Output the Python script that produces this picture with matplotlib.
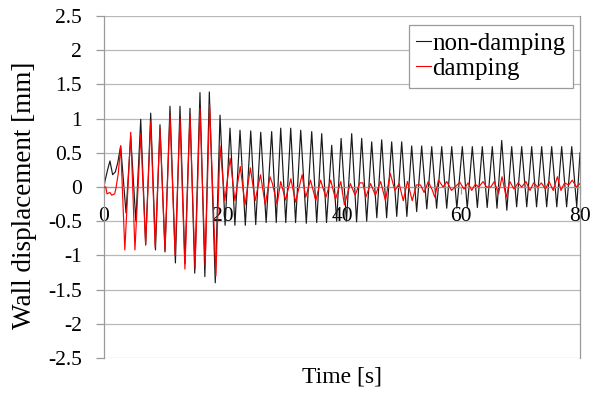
import matplotlib
matplotlib.use("Agg")
import matplotlib.pyplot as plt

# ---- data (vertices) ----
t_nondamp = [0.0, 0.2, 0.6, 1.0, 1.45, 1.9, 2.3, 2.8, 3.7, 4.49, 5.35, 6.17, 7.0, 7.85, 8.65,
             9.41, 10.25, 11.09, 12.0, 12.77, 13.6, 14.45, 15.25, 16.13, 16.95, 17.70, 18.7,
             19.5, 20.35, 21.18, 22.0, 22.86, 23.75, 24.66, 25.5, 26.34, 27.25, 28.18, 28.95,
             29.70, 30.55, 31.38, 32.2, 33.06, 34.0, 34.91, 35.75, 36.59, 37.4, 38.27, 39.1,
             39.85, 40.75, 41.63, 42.45, 43.31, 44.15, 44.99, 45.85, 46.67, 47.5, 48.35, 49.2,
             50.03, 50.9, 51.71, 52.55, 53.39, 54.25, 55.08, 55.9, 56.76, 57.6, 58.44, 59.3,
             60.22, 61.05, 61.90, 62.75, 63.58, 64.4, 65.26, 66.05, 66.84, 67.7, 68.52, 69.35,
             70.20, 71.05, 71.88, 72.7, 73.56, 74.4, 75.24, 76.1, 76.92, 77.75, 78.61, 79.45, 80.0]
v_nondamp = [0.0, 0.1, 0.25, 0.38, 0.18, 0.22, 0.35, 0.6, -0.38, 0.74, -0.5, 0.99, -0.85, 1.08, -0.92,
             0.91, -0.95, 1.18, -1.11, 1.18, -1.12, 1.15, -1.26, 1.38, -1.31, 1.39, -1.4,
             1.05, -0.56, 0.86, -0.56, 0.83, -0.56, 0.82, -0.55, 0.8, -0.52, 0.81, -0.52,
             0.86, -0.52, 0.86, -0.52, 0.83, -0.53, 0.81, -0.52, 0.78, -0.52, 0.61, -0.5,
             0.71, -0.5, 0.78, -0.51, 0.71, -0.5, 0.66, -0.45, 0.69, -0.45, 0.66, -0.43,
             0.66, -0.43, 0.6, -0.36, 0.6, -0.32, 0.59, -0.31, 0.59, -0.31, 0.59, -0.31,
             0.59, -0.31, 0.59, -0.3, 0.59, -0.3, 0.59, -0.31, 0.68, -0.34, 0.59, -0.29,
             0.59, -0.29, 0.59, -0.29, 0.59, -0.29, 0.59, -0.29, 0.59, -0.29, 0.59, -0.29, 0.5]

t_damp = [0.0, 0.3, 0.5, 1.0, 1.3, 1.8, 2.0, 2.4, 2.8, 3.5, 4.49, 5.2, 6.17, 7.0, 7.85, 8.6,
          9.41, 10.25, 11.09, 11.95, 12.77, 13.6, 14.45, 15.3, 16.13, 17.0, 17.75, 18.8,
          19.5, 20.3, 21.2, 22.0, 22.9, 23.7, 24.6, 25.4, 26.3, 27.1, 27.9, 28.3, 29.1,
          29.7, 30.5, 31.4, 32.2, 33.3, 33.9, 34.7, 35.6, 36.4, 37.3, 38.1, 38.9, 39.8,
          40.4, 41.4, 42.2, 43.0, 43.5, 44.0, 44.8, 45.6, 46.5, 47.3, 48.1, 48.9, 49.6,
          50.3, 51.0, 51.8, 52.5, 53.2, 53.8, 54.5, 55.2, 55.6, 56.2, 57.0, 57.6, 58.4,
          59.0, 59.8, 60.5, 61.2, 61.8, 62.4, 63.0, 63.7, 64.3, 65.0, 65.6, 66.3, 66.9,
          67.6, 68.2, 68.9, 69.6, 70.2, 70.9, 71.6, 72.2, 72.9, 73.5, 74.2, 74.8, 75.5,
          76.2, 76.8, 77.4, 78.1, 78.7, 79.4, 80.0]
v_damp = [0.0, 0.0, -0.1, -0.08, -0.12, -0.1, -0.02, 0.2, 0.6, -0.92, 0.8, -0.92, 0.78, -0.84, 0.96, -0.88,
          0.85, -0.92, 1.05, -1.0, 1.0, -1.2, 1.05, -1.19, 1.15, -1.15, 1.2, -1.3,
          0.6, -0.2, 0.42, -0.2, 0.3, -0.26, 0.28, -0.2, 0.18, -0.26, 0.15, 0.05, -0.25,
          0.08, -0.19, 0.12, -0.22, 0.18, -0.15, 0.1, -0.2, 0.1, -0.15, 0.1, -0.18, 0.08,
          -0.26, 0.05, -0.12, 0.06, 0.06, -0.15, 0.05, -0.12, 0.08, -0.2, 0.2, -0.05, 0.05,
          -0.2, 0.08, -0.2, 0.03, 0.03, -0.08, 0.08, -0.05, -0.15, 0.1, 0.0, 0.08, -0.05,
          0.0, 0.07, -0.03, 0.06, -0.05, 0.04, 0.0, 0.08, 0.0, 0.0, 0.08, -0.1, 0.15,
          -0.15, 0.08, -0.03, 0.06, 0.0, 0.08, -0.05, 0.06, 0.0, 0.06, -0.03, 0.08, -0.05,
          0.15, -0.05, 0.06, 0.03, 0.1, 0.0, 0.05]

x_ticks = [0, 20, 40, 60, 80]
y_ticks = [-2.5, -2, -1.5, -1, -0.5, 0, 0.5, 1, 1.5, 2, 2.5]
y_ticklabels = ["-2.5", "-2", "-1.5", "-1", "-0.5", "0", "0.5", "1", "1.5", "2", "2.5"]
labels = ["non-damping", "damping"]

plt.rcParams['font.family'] = ['Liberation Serif', 'DejaVu Serif']

fig = plt.figure(figsize=(5.98, 3.94), dpi=100)
ax = fig.add_axes([104/598, 1-358/394, (580-104)/598, (358-16)/394])

grid_c = '#b8b8b8'
axis_c = '#9a9a9a'
for y in y_ticks:
    ax.axhline(y, color=grid_c, lw=0.9, zorder=0)

ax.plot(t_nondamp, v_nondamp, color='#1a1a1a', lw=0.85, label=labels[0], zorder=2)
ax.plot(t_damp, v_damp, color='#ff0000', lw=0.85, label=labels[1], zorder=3)

ax.set_xlim(0, 80)
ax.set_ylim(-2.5, 2.5)
ax.set_yticks(y_ticks)
ax.set_yticklabels(y_ticklabels)
ax.set_xticks(x_ticks)
ax.set_xticklabels([str(v) for v in x_ticks])

ax.spines['bottom'].set_position(('data', 0))
for s in ['left', 'bottom', 'right', 'top']:
    ax.spines[s].set_color(axis_c)
    ax.spines[s].set_linewidth(0.9)
ax.spines['top'].set_visible(False)

ax.tick_params(axis='y', direction='out', length=5.5, width=0.9, color=axis_c,
               labelsize=15.5, pad=10.5)
ax.tick_params(axis='x', direction='out', length=5, width=0.9, color=axis_c,
               labelsize=15.5, pad=9.5)

fig.text(25/598, 1-195/394, 'Wall displacement [mm]', ha='center', va='center',
         rotation=90, fontsize=19.5)
fig.text((298+385)/2/598, 1-377/394, 'Time [s]', ha='center', va='center', fontsize=17)

leg = ax.legend(loc='upper right', bbox_to_anchor=(573/598, 1-25/394),
                bbox_transform=fig.transFigure, fontsize=18, frameon=True,
                fancybox=False, edgecolor='#9a9a9a', framealpha=1,
                handlelength=0.6, handletextpad=0.05, labelspacing=0.1,
                borderpad=0.3, borderaxespad=0)
leg.get_frame().set_linewidth(0.9)
for h in leg.get_lines():
    h.set_linewidth(0.8)

fig.savefig('out.png', dpi=100)
